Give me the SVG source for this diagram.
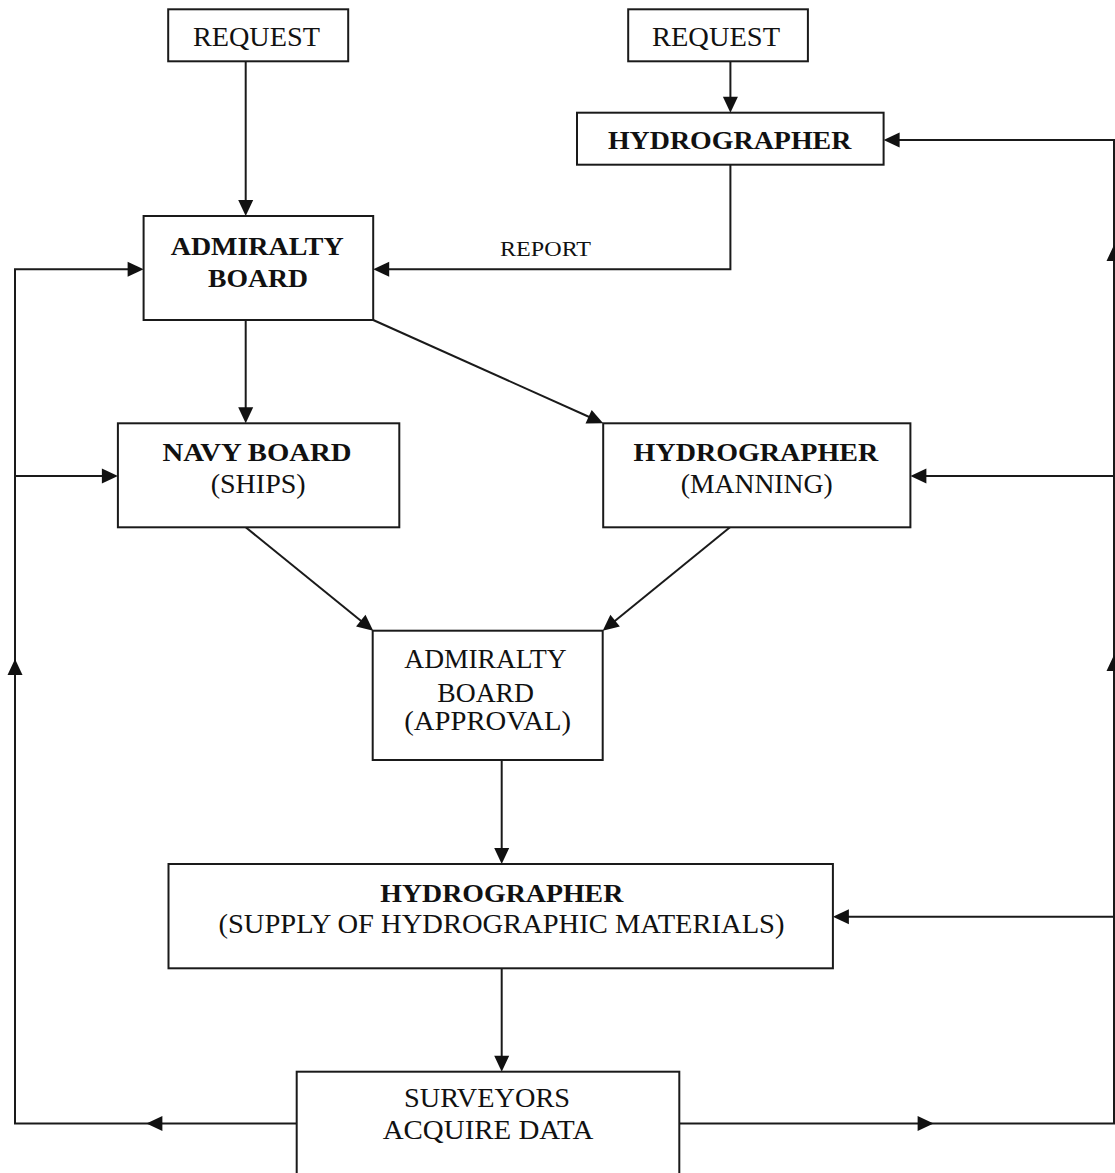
<svg xmlns="http://www.w3.org/2000/svg" xmlns:xlink="http://www.w3.org/1999/xlink" width="1115" height="1173" viewBox="0 0 1115 1173">
<style>
.box{fill:#fff;stroke:#1a1a1a;stroke-width:2}
.ln{fill:none;stroke:#1a1a1a;stroke-width:2}
.ah{fill:#111}
text{font-family:"Liberation Serif","Times New Roman",serif;font-size:27px;fill:#111}
.b{font-weight:bold;font-size:26px}
.sm{font-size:22px}
</style>
<defs>
<path id="ah" class="ah" d="M0,0 L-16,-7.5 L-16,7.5 Z"/>
</defs>
<rect width="1115" height="1173" fill="#fff"/>
<g id="connectors">
<line class="ln" x1="245.7" y1="61" x2="245.7" y2="208"/>
<use xlink:href="#ah" transform="translate(245.7,216) rotate(90)"/>
<line class="ln" x1="730.4" y1="61" x2="730.4" y2="105"/>
<use xlink:href="#ah" transform="translate(730.4,112.7) rotate(90)"/>
<polyline class="ln" points="730.4,164.7 730.4,269.3 380,269.3"/>
<use xlink:href="#ah" transform="translate(373.2,269.3) rotate(180)"/>
<line class="ln" x1="245.7" y1="320" x2="245.7" y2="415"/>
<use xlink:href="#ah" transform="translate(245.7,423.3) rotate(90)"/>
<line class="ln" x1="373.2" y1="320" x2="596" y2="420"/>
<use xlink:href="#ah" transform="translate(603.2,423.3) rotate(24.2)"/>
<line class="ln" x1="245.7" y1="527.3" x2="367" y2="625.7"/>
<use xlink:href="#ah" transform="translate(373.2,630.7) rotate(39)"/>
<line class="ln" x1="730" y1="527.3" x2="609" y2="625.7"/>
<use xlink:href="#ah" transform="translate(602.7,630.7) rotate(140.9)"/>
<line class="ln" x1="501.7" y1="760" x2="501.7" y2="856"/>
<use xlink:href="#ah" transform="translate(501.7,864) rotate(90)"/>
<line class="ln" x1="501.7" y1="968.3" x2="501.7" y2="1064"/>
<use xlink:href="#ah" transform="translate(501.7,1071.7) rotate(90)"/>
<polyline class="ln" points="296.7,1123.5 15,1123.5 15,269.3 136,269.3"/>
<use xlink:href="#ah" transform="translate(146.4,1123.5) rotate(180)"/>
<use xlink:href="#ah" transform="translate(15,659) rotate(-90)"/>
<use xlink:href="#ah" transform="translate(143.6,269.3)"/>
<line class="ln" x1="15" y1="476" x2="110" y2="476"/>
<use xlink:href="#ah" transform="translate(117.9,476)"/>
<polyline class="ln" points="679.3,1123.5 1114,1123.5 1114,140 891,140"/>
<use xlink:href="#ah" transform="translate(933.6,1123.5)"/>
<use xlink:href="#ah" transform="translate(1114,655) rotate(-90)"/>
<use xlink:href="#ah" transform="translate(1114,245) rotate(-90)"/>
<use xlink:href="#ah" transform="translate(883.6,140) rotate(180)"/>
<line class="ln" x1="1114" y1="476" x2="918" y2="476"/>
<use xlink:href="#ah" transform="translate(910.4,476) rotate(180)"/>
<line class="ln" x1="1114" y1="916.7" x2="840" y2="916.7"/>
<use xlink:href="#ah" transform="translate(832.9,916.7) rotate(180)"/>
<text class="sm" x="500" y="256" textLength="91" lengthAdjust="spacingAndGlyphs">REPORT</text>
</g>
<g id="request1">
<rect class="box" x="168.2" y="9.3" width="180" height="52"/>
<text x="192.9" y="45.7" textLength="127" lengthAdjust="spacingAndGlyphs">REQUEST</text>
</g>
<g id="request2">
<rect class="box" x="628.2" y="9.3" width="179.7" height="52"/>
<text x="652" y="45.7" textLength="128" lengthAdjust="spacingAndGlyphs">REQUEST</text>
</g>
<g id="hydrographer-top">
<rect class="box" x="577" y="112.7" width="306.6" height="52"/>
<text class="b" x="607.9" y="149" textLength="243.5" lengthAdjust="spacingAndGlyphs">HYDROGRAPHER</text>
</g>
<g id="admiralty-board">
<rect class="box" x="143.6" y="216" width="229.6" height="104"/>
<text class="b" x="170.7" y="255" textLength="173" lengthAdjust="spacingAndGlyphs">ADMIRALTY</text>
<text class="b" x="208" y="286.7" textLength="100" lengthAdjust="spacingAndGlyphs">BOARD</text>
</g>
<g id="navy-board">
<rect class="box" x="117.9" y="423.3" width="281.4" height="104"/>
<text class="b" x="162.5" y="461" textLength="189" lengthAdjust="spacingAndGlyphs">NAVY BOARD</text>
<text x="210.7" y="493" textLength="95" lengthAdjust="spacingAndGlyphs">(SHIPS)</text>
</g>
<g id="hydrographer-manning">
<rect class="box" x="603.2" y="423.3" width="307.2" height="104"/>
<text class="b" x="633.6" y="461" textLength="244.6" lengthAdjust="spacingAndGlyphs">HYDROGRAPHER</text>
<text x="680.7" y="493" textLength="152" lengthAdjust="spacingAndGlyphs">(MANNING)</text>
</g>
<g id="admiralty-approval">
<rect class="box" x="372.7" y="630.7" width="230" height="129.3"/>
<text x="404.3" y="668.3" textLength="162.4" lengthAdjust="spacingAndGlyphs">ADMIRALTY</text>
<text x="437.3" y="701.7" textLength="96.7" lengthAdjust="spacingAndGlyphs">BOARD</text>
<text x="404.3" y="730" textLength="166.7" lengthAdjust="spacingAndGlyphs">(APPROVAL)</text>
</g>
<g id="hydrographer-supply">
<rect class="box" x="168.5" y="864" width="664.4" height="104.3"/>
<text class="b" x="380.3" y="901.5" textLength="243" lengthAdjust="spacingAndGlyphs">HYDROGRAPHER</text>
<text x="218.5" y="933" textLength="566" lengthAdjust="spacingAndGlyphs">(SUPPLY OF HYDROGRAPHIC MATERIALS)</text>
</g>
<g id="surveyors">
<rect class="box" x="296.7" y="1071.7" width="382.6" height="120"/>
<text x="404" y="1107" textLength="166" lengthAdjust="spacingAndGlyphs">SURVEYORS</text>
<text x="382.7" y="1139" textLength="210.6" lengthAdjust="spacingAndGlyphs">ACQUIRE DATA</text>
</g>
</svg>
